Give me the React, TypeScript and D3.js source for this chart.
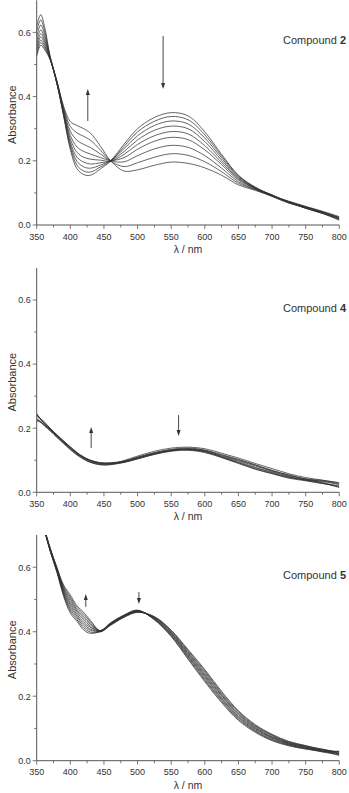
import React from "react";
import * as d3 from "d3";

const wavelengths = [350, 356, 362, 370, 380, 390, 400, 410, 420, 430, 445, 460, 480, 500, 525, 550, 575, 600, 625, 650, 675, 700, 725, 750, 775, 800];

const compound2Spectra = [
  [0.525, 0.560, 0.545, 0.515, 0.440, 0.340, 0.235, 0.175, 0.157, 0.155, 0.175, 0.200, 0.252, 0.300, 0.335, 0.350, 0.340, 0.290, 0.220, 0.155, 0.118, 0.093, 0.072, 0.056, 0.040, 0.022],
  [0.533, 0.568, 0.551, 0.516, 0.441, 0.342, 0.242, 0.186, 0.168, 0.165, 0.181, 0.199, 0.245, 0.290, 0.323, 0.338, 0.328, 0.281, 0.215, 0.153, 0.117, 0.092, 0.074, 0.058, 0.043, 0.026],
  [0.541, 0.576, 0.557, 0.517, 0.442, 0.345, 0.250, 0.198, 0.181, 0.177, 0.187, 0.201, 0.238, 0.278, 0.310, 0.324, 0.315, 0.271, 0.209, 0.150, 0.116, 0.094, 0.070, 0.054, 0.038, 0.018],
  [0.551, 0.586, 0.564, 0.518, 0.443, 0.348, 0.258, 0.211, 0.196, 0.190, 0.194, 0.200, 0.229, 0.265, 0.295, 0.308, 0.300, 0.260, 0.202, 0.147, 0.115, 0.091, 0.073, 0.057, 0.041, 0.024],
  [0.561, 0.596, 0.572, 0.519, 0.444, 0.351, 0.268, 0.226, 0.211, 0.205, 0.202, 0.199, 0.220, 0.251, 0.278, 0.291, 0.284, 0.247, 0.195, 0.144, 0.114, 0.093, 0.071, 0.053, 0.037, 0.016],
  [0.573, 0.608, 0.580, 0.520, 0.445, 0.355, 0.279, 0.243, 0.229, 0.221, 0.210, 0.201, 0.210, 0.236, 0.261, 0.273, 0.266, 0.234, 0.188, 0.140, 0.113, 0.090, 0.069, 0.055, 0.040, 0.021],
  [0.588, 0.623, 0.591, 0.522, 0.447, 0.360, 0.292, 0.264, 0.251, 0.241, 0.221, 0.200, 0.197, 0.216, 0.237, 0.248, 0.242, 0.216, 0.177, 0.135, 0.111, 0.092, 0.072, 0.052, 0.036, 0.015],
  [0.604, 0.639, 0.603, 0.523, 0.448, 0.365, 0.307, 0.287, 0.276, 0.264, 0.233, 0.199, 0.182, 0.194, 0.211, 0.222, 0.217, 0.197, 0.166, 0.130, 0.110, 0.089, 0.068, 0.054, 0.039, 0.023],
  [0.620, 0.655, 0.615, 0.525, 0.450, 0.370, 0.322, 0.310, 0.300, 0.286, 0.245, 0.200, 0.168, 0.172, 0.186, 0.196, 0.192, 0.178, 0.155, 0.125, 0.108, 0.090, 0.070, 0.052, 0.036, 0.020],
];

const compound4Spectra = [
  [0.246, 0.229, 0.219, 0.199, 0.180, 0.160, 0.141, 0.124, 0.104, 0.094, 0.086, 0.087, 0.099, 0.113, 0.128, 0.138, 0.141, 0.136, 0.122, 0.107, 0.090, 0.074, 0.058, 0.046, 0.038, 0.030],
  [0.226, 0.218, 0.208, 0.192, 0.171, 0.152, 0.133, 0.116, 0.103, 0.093, 0.086, 0.086, 0.094, 0.107, 0.121, 0.131, 0.135, 0.129, 0.116, 0.101, 0.085, 0.069, 0.053, 0.042, 0.029, 0.015],
  [0.241, 0.230, 0.214, 0.200, 0.179, 0.158, 0.140, 0.121, 0.108, 0.098, 0.091, 0.092, 0.098, 0.110, 0.124, 0.134, 0.138, 0.132, 0.118, 0.103, 0.086, 0.067, 0.055, 0.040, 0.035, 0.026],
  [0.222, 0.220, 0.206, 0.193, 0.173, 0.155, 0.134, 0.118, 0.104, 0.095, 0.088, 0.088, 0.093, 0.105, 0.119, 0.130, 0.133, 0.127, 0.112, 0.096, 0.078, 0.063, 0.049, 0.037, 0.028, 0.018],
  [0.244, 0.226, 0.215, 0.198, 0.178, 0.160, 0.142, 0.124, 0.110, 0.100, 0.092, 0.091, 0.097, 0.109, 0.123, 0.133, 0.136, 0.131, 0.114, 0.099, 0.082, 0.066, 0.051, 0.042, 0.037, 0.029],
  [0.230, 0.221, 0.210, 0.194, 0.175, 0.154, 0.136, 0.119, 0.107, 0.097, 0.089, 0.089, 0.095, 0.106, 0.120, 0.130, 0.133, 0.126, 0.110, 0.093, 0.076, 0.061, 0.047, 0.038, 0.031, 0.016],
  [0.238, 0.227, 0.213, 0.197, 0.177, 0.159, 0.139, 0.122, 0.109, 0.099, 0.091, 0.090, 0.096, 0.106, 0.121, 0.131, 0.134, 0.128, 0.110, 0.092, 0.073, 0.059, 0.046, 0.039, 0.034, 0.024],
  [0.228, 0.219, 0.209, 0.196, 0.176, 0.157, 0.139, 0.123, 0.110, 0.100, 0.092, 0.091, 0.094, 0.104, 0.118, 0.128, 0.131, 0.124, 0.108, 0.090, 0.072, 0.058, 0.044, 0.036, 0.027, 0.021],
];

const compound5Spectra = [
  [0.790, 0.750, 0.710, 0.650, 0.585, 0.510, 0.458, 0.432, 0.405, 0.395, 0.402, 0.428, 0.452, 0.467, 0.437, 0.385, 0.315, 0.245, 0.180, 0.125, 0.088, 0.062, 0.046, 0.036, 0.030, 0.024],
  [0.791, 0.751, 0.711, 0.651, 0.587, 0.514, 0.464, 0.437, 0.411, 0.399, 0.400, 0.427, 0.451, 0.466, 0.438, 0.387, 0.318, 0.249, 0.184, 0.128, 0.091, 0.064, 0.048, 0.037, 0.027, 0.018],
  [0.791, 0.751, 0.711, 0.652, 0.588, 0.518, 0.470, 0.443, 0.417, 0.404, 0.403, 0.426, 0.450, 0.465, 0.439, 0.389, 0.322, 0.253, 0.188, 0.132, 0.093, 0.066, 0.049, 0.038, 0.033, 0.028],
  [0.792, 0.752, 0.712, 0.653, 0.590, 0.522, 0.476, 0.448, 0.423, 0.408, 0.401, 0.425, 0.450, 0.465, 0.440, 0.392, 0.325, 0.258, 0.192, 0.135, 0.096, 0.069, 0.051, 0.040, 0.029, 0.021],
  [0.792, 0.752, 0.712, 0.654, 0.592, 0.525, 0.483, 0.453, 0.429, 0.413, 0.404, 0.424, 0.449, 0.464, 0.441, 0.394, 0.328, 0.262, 0.195, 0.138, 0.099, 0.071, 0.052, 0.041, 0.035, 0.026],
  [0.793, 0.753, 0.713, 0.656, 0.593, 0.530, 0.489, 0.459, 0.436, 0.417, 0.400, 0.424, 0.448, 0.463, 0.443, 0.396, 0.332, 0.266, 0.200, 0.142, 0.101, 0.073, 0.054, 0.042, 0.031, 0.016],
  [0.793, 0.753, 0.713, 0.657, 0.595, 0.533, 0.496, 0.464, 0.442, 0.422, 0.402, 0.423, 0.447, 0.462, 0.444, 0.398, 0.335, 0.270, 0.203, 0.145, 0.104, 0.075, 0.055, 0.043, 0.028, 0.030],
  [0.794, 0.754, 0.714, 0.658, 0.597, 0.537, 0.502, 0.469, 0.448, 0.426, 0.401, 0.422, 0.446, 0.461, 0.445, 0.401, 0.338, 0.275, 0.207, 0.148, 0.107, 0.078, 0.057, 0.045, 0.036, 0.022],
  [0.794, 0.754, 0.714, 0.659, 0.598, 0.541, 0.508, 0.475, 0.454, 0.431, 0.403, 0.421, 0.446, 0.461, 0.446, 0.403, 0.342, 0.279, 0.211, 0.152, 0.109, 0.080, 0.058, 0.046, 0.032, 0.027],
  [0.795, 0.755, 0.715, 0.660, 0.600, 0.545, 0.514, 0.480, 0.460, 0.435, 0.402, 0.420, 0.445, 0.460, 0.447, 0.405, 0.345, 0.283, 0.215, 0.155, 0.112, 0.082, 0.060, 0.047, 0.034, 0.020],
];

const xTicks = [350, 400, 450, 500, 550, 600, 650, 700, 750, 800];
const xMinorTicks = [375, 425, 475, 525, 575, 625, 675, 725, 775];
const yTicks = [0.0, 0.2, 0.4, 0.6];
const yMinorTicks = [0.1, 0.3, 0.5];

const compound2Arrows = [
  { lambda: 426, from: 0.324, to: 0.424 },
  { lambda: 538, from: 0.589, to: 0.424 },
];
const compound4Arrows = [
  { lambda: 431, from: 0.138, to: 0.204 },
  { lambda: 561, from: 0.241, to: 0.176 },
];
const compound5Arrows = [
  { lambda: 423, from: 0.477, to: 0.517 },
  { lambda: 502, from: 0.523, to: 0.486 },
];

const FONT = "'Liberation Sans', Arial, Helvetica, sans-serif";
const AXIS = "#555";
const TEXT = "#333";
const LINE = "#333";

type Arrow = { lambda: number; from: number; to: number };

function Panel({ id, top, bottom, spectra, label, arrows }: { id: string; top: number; bottom: number; spectra: number[][]; label: string; arrows: Arrow[] }) {
  const x = d3.scaleLinear().domain([350, 800]).range([36.7, 339.3]);
  const y = d3.scaleLinear().domain([0, 0.7]).range([bottom, top]);
  const line = d3
    .line<number>()
    .x((_, i) => x(wavelengths[i]))
    .y((d) => y(d))
    .curve(d3.curveCatmullRom.alpha(0.5));
  const x0 = x(350);
  const x1 = x(800);
  return (
    <g>
      <defs>
        <clipPath id={id}>
          <rect x={x0} y={top} width={x1 - x0} height={bottom - top} />
        </clipPath>
      </defs>
      <g clipPath={`url(#${id})`}>
        {spectra.map((s, i) => (
          <path key={i} d={line(s) || ""} fill="none" stroke={LINE} strokeWidth={0.75} />
        ))}
      </g>
      <line x1={x0} x2={x1} y1={bottom} y2={bottom} stroke={AXIS} strokeWidth={1} />
      <line x1={x0} x2={x0} y1={top} y2={bottom} stroke={AXIS} strokeWidth={1} />
      {xTicks.map((t) => (
        <g key={"xt" + t}>
          <line x1={x(t)} x2={x(t)} y1={bottom} y2={bottom + 4} stroke={AXIS} strokeWidth={0.8} />
          <text x={x(t)} y={bottom + 14.5} textAnchor="middle" fontSize={9} fill={TEXT} fontFamily={FONT}>
            {t}
          </text>
        </g>
      ))}
      {xMinorTicks.map((t) => (
        <line key={"xm" + t} x1={x(t)} x2={x(t)} y1={bottom} y2={bottom + 2.5} stroke={AXIS} strokeWidth={0.8} />
      ))}
      {yTicks.map((t) => (
        <g key={"yt" + t}>
          <line x1={x0 - 4} x2={x0} y1={y(t)} y2={y(t)} stroke={AXIS} strokeWidth={0.8} />
          <text x={x0 - 6} y={y(t) + 3.3} textAnchor="end" fontSize={9} fill={TEXT} fontFamily={FONT}>
            {t.toFixed(1)}
          </text>
        </g>
      ))}
      {yMinorTicks.map((t) => (
        <line key={"ym" + t} x1={x0 - 2.5} x2={x0} y1={y(t)} y2={y(t)} stroke={AXIS} strokeWidth={0.8} />
      ))}
      <text
        transform={`translate(15.5, ${(top + bottom) / 2 + 2}) rotate(-90)`}
        textAnchor="middle"
        fontSize={11}
        fill={TEXT}
        fontFamily={FONT}
      >
        Absorbance
      </text>
      <text x={(x0 + x1) / 2} y={bottom + 28} textAnchor="middle" fontSize={10.5} fill={TEXT} fontFamily={FONT}>
        λ / nm
      </text>
      <text x={346} y={y(0.575) + 4} textAnchor="end" fontSize={11} fill={TEXT} fontFamily={FONT}>
        Compound <tspan fontWeight="bold">{label}</tspan>
      </text>
      {arrows.map((a, i) => {
        const ax = x(a.lambda);
        const ya = y(a.from);
        const yb = y(a.to);
        const dir = yb < ya ? -1 : 1;
        const head = 6;
        return (
          <g key={"ar" + i}>
            <line x1={ax} x2={ax} y1={ya} y2={yb - dir * head} stroke={LINE} strokeWidth={0.9} />
            <polygon
              points={`${ax},${yb} ${ax - 2},${yb - dir * head} ${ax + 2},${yb - dir * head}`}
              fill={LINE}
            />
          </g>
        );
      })}
    </g>
  );
}

export default function App() {
  return (
    <svg
      width={349}
      height={793}
      style={{ position: "absolute", left: 0, top: 0, background: "#fff" }}
    >
      <rect width={349} height={793} fill="#fff" />
      <Panel id="c2" top={0.3} bottom={225} spectra={compound2Spectra} label="2" arrows={compound2Arrows} />
      <Panel id="c4" top={268} bottom={492.3} spectra={compound4Spectra} label="4" arrows={compound4Arrows} />
      <Panel id="c5" top={535} bottom={760.7} spectra={compound5Spectra} label="5" arrows={compound5Arrows} />
    </svg>
  );
}
